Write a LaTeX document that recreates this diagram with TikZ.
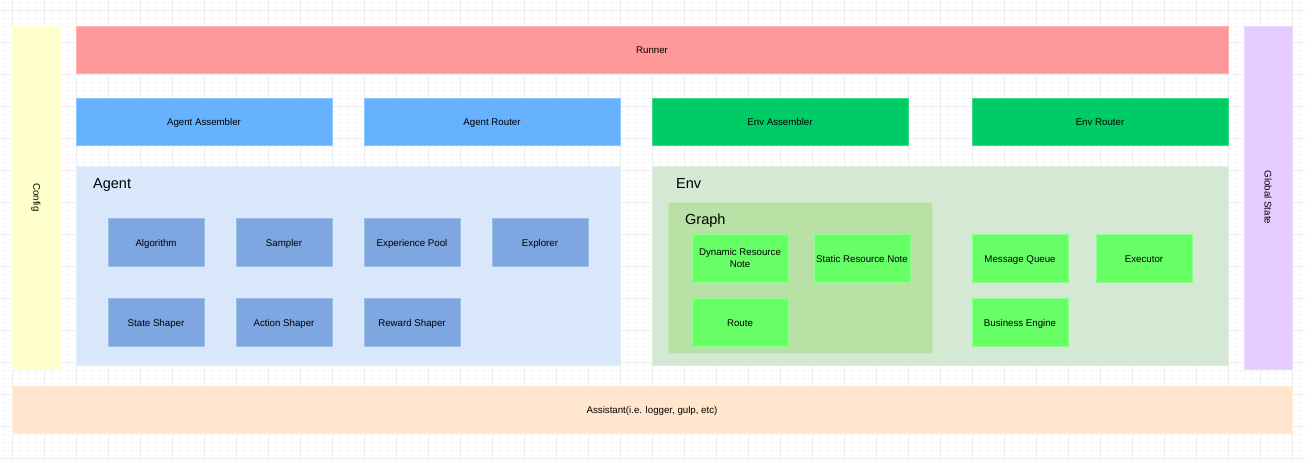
\documentclass[tikz,border=0pt]{standalone}
\usepackage{fontspec}
\setmainfont{Liberation Sans}
\usepackage{xcolor}
\usetikzlibrary{positioning}

\definecolor{runnerred}{HTML}{FF9999}
\definecolor{agentblue}{HTML}{66B2FF}
\definecolor{envgreen}{HTML}{00CC66}
\definecolor{agentbg}{HTML}{DAE8FC}
\definecolor{agentpart}{HTML}{7EA6E0}
\definecolor{envbg}{HTML}{D5E8D4}
\definecolor{graphbg}{HTML}{B9E0A5}
\definecolor{envpart}{HTML}{66FF66}
\definecolor{configyellow}{HTML}{FFFFCC}
\definecolor{statepurple}{HTML}{E5CCFF}
\definecolor{assistorange}{HTML}{FFE6CC}

\begin{document}
\begin{tikzpicture}[x=1pt, y=-1pt,
    blk/.style={rectangle, anchor=north west, inner sep=0pt, outer sep=0pt, align=center, font=\fontsize{9.7}{11.5}\selectfont},
    part/.style={blk, fill=#1, draw=#1!75!white, line width=0.6pt},
    mid/.style={text height=10pt, text depth=2pt},
    small/.style={mid, minimum width=96pt, minimum height=48pt},
    bar/.style={mid, minimum width=256pt, minimum height=47pt},
    side/.style={minimum width=48pt, minimum height=343pt},
    title/.style={anchor=base west, inner sep=0pt, font=\fontsize{14.5}{17}\selectfont},
    minorline/.style={draw=black!3, line width=0.5pt},
    majorline/.style={draw=black!7, line width=0.6pt}
]

% canvas and grid
\fill[white] (0,0) rectangle (1305,460);
\useasboundingbox (0,0) rectangle (1305,460);
\foreach \gx in {4,12,...,1300} \draw[minorline] (\gx,0) -- (\gx,460);
\foreach \gy in {2,10,...,458} \draw[minorline] (0,\gy) -- (1305,\gy);
\foreach \gx in {12,44,...,1292} \draw[majorline] (\gx,0) -- (\gx,460);
\foreach \gy in {10,42,...,458} \draw[majorline] (0,\gy) -- (1305,\gy);

% outer frame
\node[part=configyellow, side] (config) at (12,26) {\rotatebox{-90}{Config}};
\node[part=statepurple, side] (globalstate) at (1244,26) {\rotatebox{-90}{Global State}};
\node[part=assistorange, mid, minimum width=1280pt, minimum height=47pt] (assistant) at (12,386) {Assistant(i.e. logger, gulp, etc)};
\node[part=runnerred, mid, minimum width=1152pt, minimum height=47pt] (runner) at (76,26) {Runner};

% assemblers and routers
\node[part=agentblue, bar] (agentasm) at (76,98) {Agent Assembler};
\node[part=agentblue, bar, right=32pt of agentasm] (agentrouter) {Agent Router};
\node[part=envgreen, bar] (envasm) at (652,98) {Env Assembler};
\node[part=envgreen, bar] (envrouter) at (972,98) {Env Router};

% agent
\node[part=agentbg, minimum width=544pt, minimum height=199pt] (agent) at (76,166) {};
\node[title] (agentlabel) at (93,188.5) {Agent};
\node[part=agentpart, small] (algorithm) at (108,218) {Algorithm};
\node[part=agentpart, small, right=32pt of algorithm] (sampler) {Sampler};
\node[part=agentpart, small, right=32pt of sampler] (exppool) {Experience Pool};
\node[part=agentpart, small, right=32pt of exppool] (explorer) {Explorer};
\node[part=agentpart, small, below=32pt of algorithm] (stateshaper) {State Shaper};
\node[part=agentpart, small, below=32pt of sampler] (actionshaper) {Action Shaper};
\node[part=agentpart, small, below=32pt of exppool] (rewardshaper) {Reward Shaper};

% env
\node[part=envbg, minimum width=576pt, minimum height=199pt] (env) at (652,166) {};
\node[title] (envlabel) at (676,188.5) {Env};
\node[part=graphbg, minimum width=264pt, minimum height=151pt] (graph) at (668,202) {};
\node[title] (graphlabel) at (685,224) {Graph};
\node[part=envpart, minimum width=96pt, minimum height=48pt] (dynres) at (692,234) {Dynamic Resource\\Note};
\node[part=envpart, small, right=26pt of dynres] (statres) {Static Resource Note};
\node[part=envpart, small, below=16pt of dynres] (route) {Route};
\node[part=envpart, small] (msgqueue) at (972,234) {Message Queue};
\node[part=envpart, small, right=28pt of msgqueue] (executor) {Executor};
\node[part=envpart, small, below=16pt of msgqueue] (busengine) {Business Engine};

\end{tikzpicture}
\end{document}
